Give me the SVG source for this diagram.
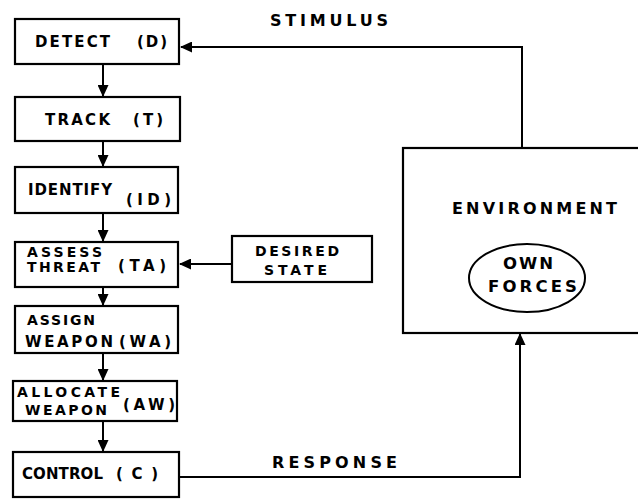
<svg xmlns="http://www.w3.org/2000/svg" width="638" height="499" viewBox="0 0 638 499">
<style>
.box{fill:#fff;stroke:#000;stroke-width:2.2}
.t{font-family:"DejaVu Sans","Liberation Sans",Arial,sans-serif;font-weight:bold;font-size:15px;fill:#000}
.s{font-size:14px}
.l{font-size:16px}
.c{fill:none;stroke:#000;stroke-width:2}
</style>
<defs>
<marker id="ah" markerWidth="12" markerHeight="11" refX="11" refY="5.5" orient="auto" markerUnits="userSpaceOnUse"><path d="M0,0 L12,5.5 L0,11 Z" fill="#000"/></marker>
</defs>
<rect width="638" height="499" fill="#fff"/>
<g id="connectors">
<line class="c" x1="103" y1="64" x2="103" y2="96" marker-end="url(#ah)"/>
<line class="c" x1="103" y1="141" x2="103" y2="166" marker-end="url(#ah)"/>
<line class="c" x1="103" y1="213" x2="103" y2="241" marker-end="url(#ah)"/>
<line class="c" x1="103" y1="287" x2="103" y2="305" marker-end="url(#ah)"/>
<line class="c" x1="103" y1="353" x2="103" y2="380" marker-end="url(#ah)"/>
<line class="c" x1="103" y1="421" x2="103" y2="451" marker-end="url(#ah)"/>
<line class="c" x1="232" y1="264" x2="180" y2="264" marker-end="url(#ah)"/>
<polyline class="c" points="522,148 522,47 181,47" marker-end="url(#ah)"/>
<polyline class="c" points="179,477 520,477 520,334" marker-end="url(#ah)"/>
<text class="t l" x="270" y="26" textLength="118" lengthAdjust="spacing">STIMULUS</text>
<text class="t l" x="272" y="468" textLength="125" lengthAdjust="spacing">RESPONSE</text>
</g>
<g id="detect">
<rect class="box" x="15" y="19" width="164" height="45"/>
<text class="t" x="35" y="47" textLength="75" lengthAdjust="spacing">DETECT</text>
<text class="t" x="137" y="47" textLength="30" lengthAdjust="spacing">(D)</text>
</g>
<g id="track">
<rect class="box" x="15" y="97" width="165" height="44"/>
<text class="t" x="45" y="125" textLength="65" lengthAdjust="spacing">TRACK</text>
<text class="t" x="133" y="125" textLength="30" lengthAdjust="spacing">(T)</text>
</g>
<g id="identify">
<rect class="box" x="15" y="167" width="163" height="46"/>
<text class="t" x="28" y="195" textLength="84" lengthAdjust="spacing">IDENTIFY</text>
<text class="t" x="126" y="205" textLength="45" lengthAdjust="spacing">(ID)</text>
</g>
<g id="assess">
<rect class="box" x="15" y="242" width="163" height="45"/>
<text class="t s" x="27" y="257" textLength="75" lengthAdjust="spacing">ASSESS</text>
<text class="t s" x="27" y="272" textLength="73" lengthAdjust="spacing">THREAT</text>
<text class="t" x="118" y="271" textLength="48" lengthAdjust="spacing">(TA)</text>
</g>
<g id="assign">
<rect class="box" x="15" y="306" width="163" height="47"/>
<text class="t s" x="27" y="325" textLength="68" lengthAdjust="spacing">ASSIGN</text>
<text class="t" x="25" y="347" textLength="88" lengthAdjust="spacing">WEAPON</text>
<text class="t" x="119" y="347" textLength="52" lengthAdjust="spacing">(WA)</text>
</g>
<g id="allocate">
<rect class="box" x="13" y="381" width="164" height="40"/>
<text class="t s" x="17" y="397" textLength="103" lengthAdjust="spacing">ALLOCATE</text>
<text class="t s" x="25" y="415" textLength="82" lengthAdjust="spacing">WEAPON</text>
<text class="t" x="123" y="410" textLength="52" lengthAdjust="spacing">(AW)</text>
</g>
<g id="control">
<rect class="box" x="13" y="452" width="166" height="45"/>
<text class="t" x="22" y="479" textLength="81" lengthAdjust="spacing">CONTROL</text>
<text class="t" x="116" y="479" textLength="42" lengthAdjust="spacing">(C)</text>
</g>
<g id="desired">
<rect class="box" x="232" y="236" width="140" height="46"/>
<text class="t s" x="255" y="256" textLength="84" lengthAdjust="spacing">DESIRED</text>
<text class="t s" x="264" y="275" textLength="63" lengthAdjust="spacing">STATE</text>
</g>
<g id="environment">
<rect class="box" x="403" y="148" width="245" height="185"/>
<text class="t l" x="452" y="214" textLength="165" lengthAdjust="spacing">ENVIRONMENT</text>
<ellipse cx="527" cy="278" rx="58" ry="34" fill="none" stroke="#000" stroke-width="2"/>
<text class="t" x="503" y="269" textLength="50" lengthAdjust="spacing" style="font-size:16.5px">OWN</text>
<text class="t" x="488" y="292" textLength="89" lengthAdjust="spacing" style="font-size:16.5px">FORCES</text>
</g>
</svg>
